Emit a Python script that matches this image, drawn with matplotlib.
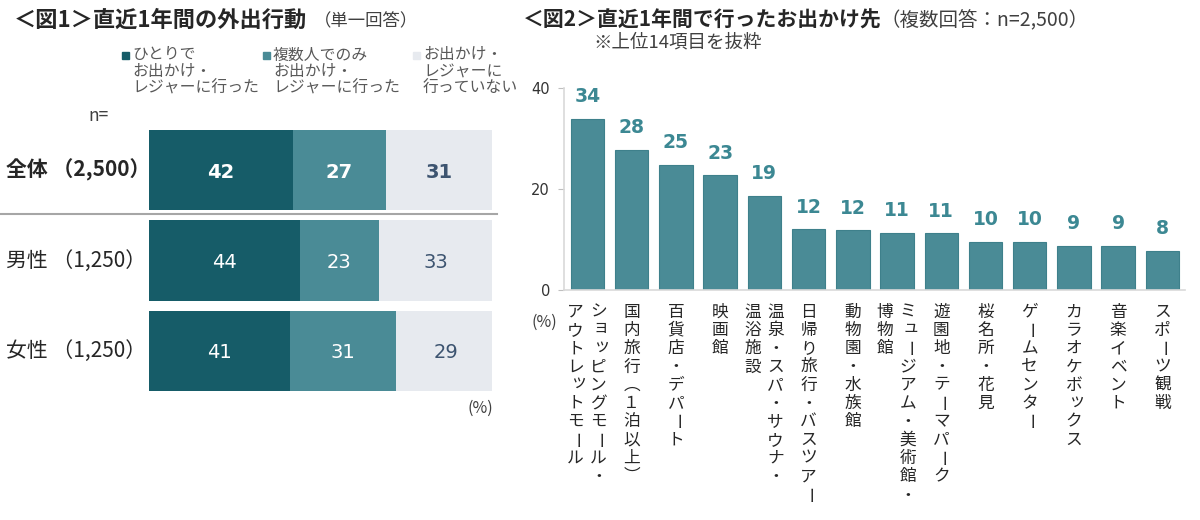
import matplotlib
matplotlib.use("Agg")
import matplotlib.pyplot as plt
from matplotlib.patches import Rectangle
from matplotlib.lines import Line2D
from matplotlib.transforms import blended_transform_factory

plt.rcParams['font.family'] = ['Noto Sans CJK JP', 'DejaVu Sans']

# --- fig.1 data ---
groups = ['全体 （2,500）', '男性 （1,250）', '女性 （1,250）']
series_names = ['ひとりで\nお出かけ・\nレジャーに行った',
                '複数人でのみ\nお出かけ・\nレジャーに行った',
                'お出かけ・\nレジャーに\n行っていない']
alone = [42, 44, 41]
together = [27, 23, 31]
not_out = [31, 33, 29]

# --- fig.2 data (columns split by \n, right column first) ---
places = ['ショッピングモール・\nアウトレットモール', '国内旅行（１泊以上）', '百貨店・デパート',
          '映画館', '温泉・スパ・サウナ・\n温浴施設', '日帰り旅行・バスツアー', '動物園・水族館',
          'ミュージアム・美術館・\n博物館', '遊園地・テーマパーク', '桜名所・花見',
          'ゲームセンター', 'カラオケボックス', '音楽イベント', 'スポーツ観戦']
place_values = [33.9, 27.8, 24.8, 22.7, 18.7, 12.0, 11.8, 11.3, 11.2, 9.5, 9.5, 8.7, 8.7, 7.8]
place_labels = [34, 28, 25, 23, 19, 12, 12, 11, 11, 10, 10, 9, 9, 8]

W, H = 1200, 520


def fx(x):
    return x / W


def fy(y):
    return 1 - y / H


fig = plt.figure(figsize=(12, 5.2), dpi=100)

# ---------------- fig.1 ----------------
gray = '#404040'
fig.text(fx(14), fy(20), '＜図1＞直近1年間の外出行動', fontsize=16, fontweight='bold',
         color='#262626', va='center')
fig.text(fx(314), fy(21), '（単一回答）', fontsize=12.5, color=gray, va='center')

ax1 = fig.add_axes([fx(149), fy(396), fx(492) - fx(149), (396 - 125) / H])
colors = ['#165c68', '#4a8b96', '#e7eaef']
text_colors = ['white', 'white', '#3d5470']
left = [0, 0, 0]
for vals, c, tc in zip([alone, together, not_out], colors, text_colors):
    ax1.barh(range(3), vals, left=left, height=0.886, color=c)
    for i, v in enumerate(vals):
        ax1.text(left[i] + v / 2, i, str(v), ha='center', va='center_baseline', color=tc,
                 fontsize=14, fontweight='bold' if i == 0 else 'normal', family='DejaVu Sans')
    left = [l + v for l, v in zip(left, vals)]
ax1.set_xlim(0, 100)
ax1.set_ylim(2.5, -0.5)
ax1.axis('off')

tr = blended_transform_factory(fig.transFigure, ax1.transData)
for i, g in enumerate(groups):
    ax1.text(fx(6), i, g, transform=tr, fontsize=15, va='center', color='#262626',
             fontweight='bold' if i == 0 else 'normal')
fig.add_artist(Line2D([0, fx(497)], [0.485, 0.485], transform=tr, color='#a6a6a6', lw=1.5))

# legend
leg_x = [122, 263, 413]
for name, c, lx in zip(series_names, colors, leg_x):
    fig.add_artist(Rectangle((fx(lx), fy(59)), 7 / W, 7 / H, transform=fig.transFigure,
                             color=c))
    for k, line in enumerate(name.split('\n')):
        fig.text(fx(lx + 10), fy(55 + k * 16.5), line, fontsize=11.4, color='#595959',
                 va='center')
fig.text(fx(88), fy(116), 'n=', fontsize=12.5, color=gray, va='center')
fig.text(fx(493), fy(408), '(%)', fontsize=11.5, color=gray, va='center', ha='right')

# ---------------- fig.2 ----------------
fig.text(fx(523), fy(20), '＜図2＞直近1年間で行ったお出かけ先', fontsize=15, fontweight='bold',
         color='#262626', va='center')
fig.text(fx(881), fy(21), '（複数回答：n=2,500）', fontsize=14, color=gray, va='center')
fig.text(fx(593), fy(42), '※上位14項目を抜粋', fontsize=13.3, color=gray, va='center')

ax2 = fig.add_axes([fx(564), fy(290), (1185 - 564) / W, (290 - 88) / H])
x = list(range(len(places)))
ax2.bar(x, place_values, width=0.757, color='#4a8b96', edgecolor='#3e808b', linewidth=0.8)
ax2.set_xlim(-0.53, 13.51)
ax2.set_ylim(0, 40)
ax2.set_yticks([0, 20, 40])
ax2.set_xticks([])
for s in ['top', 'right']:
    ax2.spines[s].set_visible(False)
for s in ['left', 'bottom']:
    ax2.spines[s].set_color('#d9d9d9')
    ax2.spines[s].set_linewidth(1.2)
ax2.tick_params(axis='y', length=4, color='#bfbfbf', labelsize=10.5, labelcolor='#333333',
                pad=6)
for lab in ax2.get_yticklabels():
    lab.set_family('DejaVu Sans')

for i, (v, lab) in enumerate(zip(place_values, place_labels)):
    ax2.annotate(str(lab), (i, v), xytext=(0, 17.5), textcoords='offset points',
                 ha='center', va='center_baseline', fontsize=13.5, fontweight='bold',
                 color='#3c8893', family='DejaVu Sans')

# vertical category labels, one glyph at a time
vertical_forms = {'（': '︵', '）': '︶'}
rotated = 'ー'
small = 'ッョャュァィゥェォっ'
px = 72 / 100
for i, name in enumerate(places):
    cols = name.split('\n')
    offs = [0] if len(cols) == 1 else [11, -12]
    for col, off in zip(cols, offs):
        for k, ch in enumerate(col):
            dx = off * px
            dy = -(22 + k * 18.3) * px
            if ch in small:
                dx += 2.5 * px
                dy += 2.5 * px
            ax2.annotate(vertical_forms.get(ch, ch), (i, 0), xycoords=('data', 'axes fraction'),
                         xytext=(dx, dy), textcoords='offset points', ha='center', va='center',
                         fontsize=12, color='#262626',
                         rotation=-90 if ch in rotated else 0)

fig.text(fx(557), fy(322), '(%)', fontsize=11.5, color=gray, va='center', ha='right')

fig.savefig('out.png', dpi=100, facecolor='white')
